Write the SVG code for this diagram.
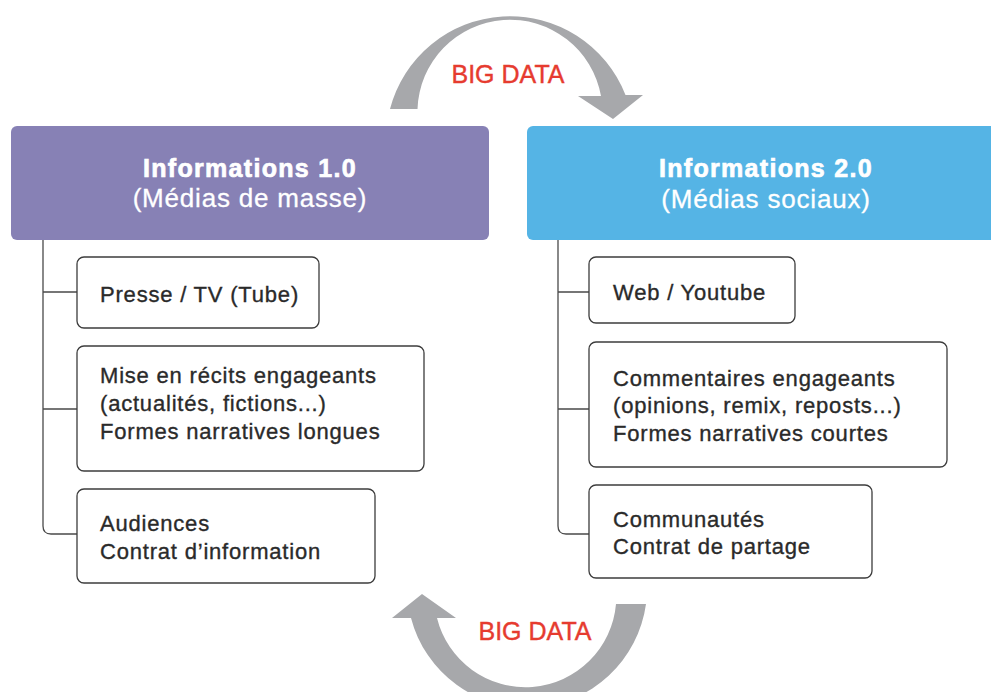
<svg xmlns="http://www.w3.org/2000/svg" width="991" height="692" viewBox="0 0 991 692">
<style>
.hdr{font-family:"Liberation Sans",Arial,sans-serif;fill:#fff;text-anchor:middle}
.t1{font-weight:bold;font-size:25px;letter-spacing:1.3px;stroke:#fff;stroke-width:0.7px}
.t2{font-size:26px;letter-spacing:0.8px;stroke:#fff;stroke-width:0.3px}
.box{fill:#fff;stroke:#3c3c3c;stroke-width:1.3}
.txt{font-family:"Liberation Sans",Arial,sans-serif;font-size:22px;fill:#2a2a2a;letter-spacing:0.8px;stroke:#2a2a2a;stroke-width:0.35px}
.conn{fill:none;stroke:#4a4a4a;stroke-width:1.3}
.arrow{fill:#A7A8AB}
.big{font-family:"Liberation Sans",Arial,sans-serif;font-size:25px;fill:#E63B2F;text-anchor:middle;stroke:#E63B2F;stroke-width:0.4px}
</style>
<rect width="991" height="692" fill="#fff"/>
<g id="cycle-top">
<path class="arrow" d="M390,109 A124,124 0 0 1 625.5,95 L643,95 L613,119 L578,96 L601,96 A92.5,92.5 0 0 0 417.5,109 Z"/>
<text class="big" x="508" y="83">BIG DATA</text>
</g>
<g id="cycle-bottom">
<path class="arrow" d="M646,604 A120,120 0 0 1 411,618 L392,618 L422,594 L456,618 L437,618 A91,91 0 0 0 616,604 Z"/>
<text class="big" x="535" y="640">BIG DATA</text>
</g>
<g id="connectors">
<path class="conn" d="M43,240 V526 Q43,534 51,534 H77 M43,292 H77 M43,409 H77"/>
<path class="conn" d="M558,240 V526 Q558,534 566,534 H589 M558,292 H589 M558,409 H589"/>
</g>
<g id="header-1">
<rect x="11" y="126" width="478" height="114" rx="6" fill="#8781B5"/>
<text class="hdr t1" x="250" y="177">Informations 1.0</text>
<text class="hdr t2" x="250" y="207">(Médias de masse)</text>
</g>
<g id="header-2">
<rect x="527" y="126" width="480" height="114" rx="6" fill="#55B4E5"/>
<text class="hdr t1" x="766" y="177">Informations 2.0</text>
<text class="hdr t2" x="766" y="208">(Médias sociaux)</text>
</g>
<g id="l1">
<rect class="box" x="77" y="257" width="242" height="71" rx="7"/>
<text class="txt" x="100" y="302">Presse / TV (Tube)</text>
</g>
<g id="l2">
<rect class="box" x="77" y="346" width="347" height="125" rx="7"/>
<text class="txt" x="100" y="383">Mise en récits engageants</text>
<text class="txt" x="100" y="411">(actualités, fictions...)</text>
<text class="txt" x="100" y="439">Formes narratives longues</text>
</g>
<g id="l3">
<rect class="box" x="77" y="489" width="298" height="94" rx="7"/>
<text class="txt" x="100" y="531">Audiences</text>
<text class="txt" x="100" y="559">Contrat d’information</text>
</g>
<g id="r1">
<rect class="box" x="589" y="257" width="206" height="66" rx="7"/>
<text class="txt" x="613" y="300">Web / Youtube</text>
</g>
<g id="r2">
<rect class="box" x="589" y="342" width="358" height="125" rx="7"/>
<text class="txt" x="613" y="386">Commentaires engageants</text>
<text class="txt" x="613" y="413">(opinions, remix, reposts...)</text>
<text class="txt" x="613" y="441">Formes narratives courtes</text>
</g>
<g id="r3">
<rect class="box" x="589" y="485" width="283" height="93" rx="7"/>
<text class="txt" x="613" y="527">Communautés</text>
<text class="txt" x="613" y="554">Contrat de partage</text>
</g>
</svg>
